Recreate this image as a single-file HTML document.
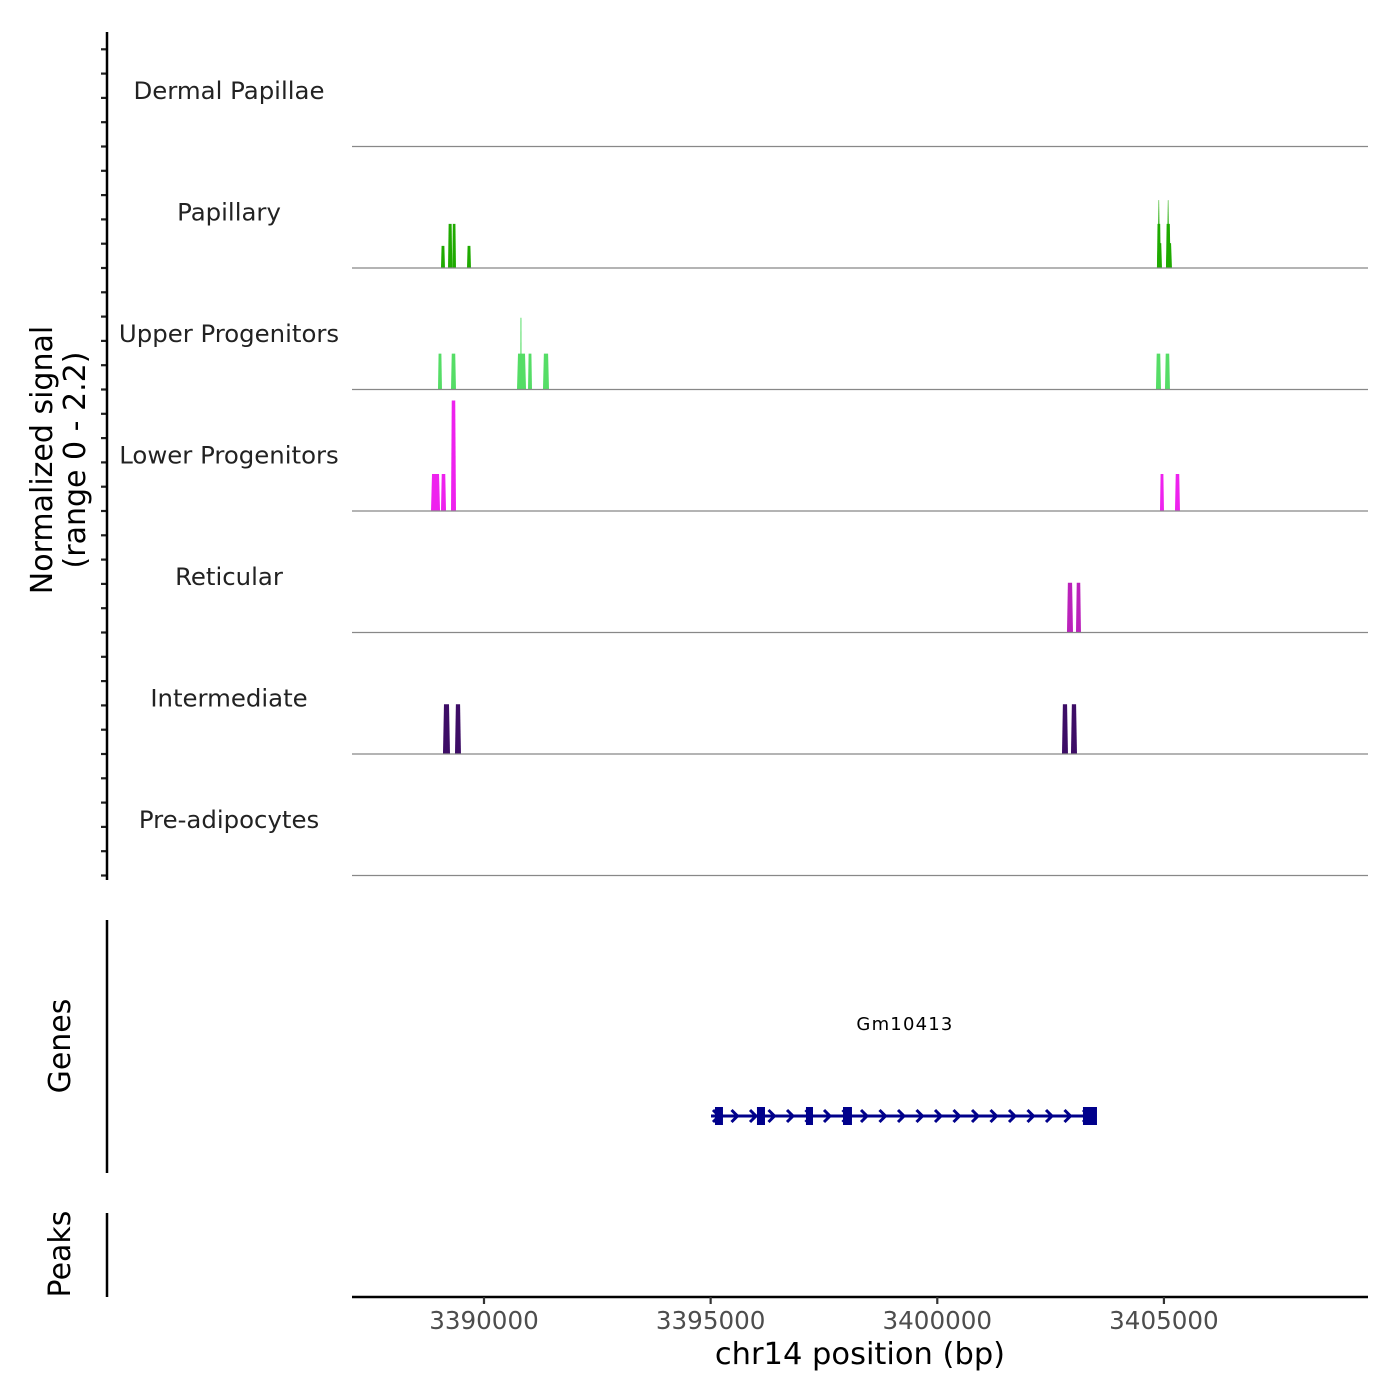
<!DOCTYPE html>
<html><head><meta charset="utf-8"><style>
body{margin:0;background:#fff}
svg{display:block;font-family:"DejaVu Sans","Liberation Sans",sans-serif}
</style></head><body>
<svg id="c" width="1400" height="1400" viewBox="0 0 1400 1400"></svg>
<script>
const tracks=["Dermal Papillae","Papillary","Upper Progenitors","Lower Progenitors","Reticular","Intermediate","Pre-adipocytes"];
const colors=["#7CAE00","#1FAA00","#55DD66","#EE22EE","#BB22BB","#3D0D66","#555"];
// peaks: [start bp, end bp, value] per track
const papillaryPeaks=[[3389051,3389139,0.4],[3389206,3389300,0.8],[3389300,3389382,0.8],[3389625,3389713,0.4],
 [3404846,3404957,0.45],[3404846,3404930,0.8],[3404860,3404915,1.23],
 [3405045,3405177,0.45],[3405045,3405145,0.8],[3405065,3405120,1.23]];
const upperPeaks=[[3388985,3389073,0.65],[3389272,3389382,0.65],[3390728,3390927,0.65],[3390800,3390830,1.3],[3390971,3391059,0.65],[3391301,3391434,0.65],[3404824,3404935,0.65],[3405023,3405133,0.65]];
const lowerPeaks=[[3388831,3389030,0.67],[3389051,3389162,0.67],[3389272,3389382,2.0],[3404913,3405001,0.67],[3405244,3405354,0.67]];
const reticularPeaks=[[3402861,3402994,0.9],[3403060,3403170,0.9]];
const intermediatePeaks=[[3389095,3389250,0.9],[3389360,3389492,0.9],[3402751,3402883,0.9],[3402949,3403082,0.9]];
const peaksByTrack=[[],papillaryPeaks,upperPeaks,lowerPeaks,reticularPeaks,intermediatePeaks,[]];
const xTicks=[3390000,3395000,3400000,3405000];
const geneStart=3395008, geneEnd=3403501;
const exons=[[3395096,3395272],[3396022,3396199],[3397103,3397258],[3397920,3398118],[3403214,3403523]];
const geneName="Gm10413";

const svg=document.getElementById('c');
const NS="http://www.w3.org/2000/svg";
function el(t,a,txt){const e=document.createElementNS(NS,t);for(const k in a)e.setAttribute(k,a[k]);if(txt!=null)e.textContent=txt;svg.appendChild(e);return e;}
const X0=352,X1=1368,D0=3387088,D1=3409502;
const x=v=>X0+(v-D0)/(D1-D0)*(X1-X0);
const trackH=121.5, top0=25, ymax=2.2;
const base=i=>top0+trackH*(i+1);
const y=(i,v)=>base(i)-v/ymax*trackH;

tracks.forEach((name,i)=>{
  const t=el('text',{x:229,y:base(i)-trackH/2+13,'text-anchor':'middle','font-size':24.4,fill:'#222'},name);
  
  
  peaksByTrack[i].forEach(p=>{
    const a=x(p[0]),b=x(p[1]),h=y(i,p[2]),w=b-a,ins=p[2]>1.1&&i==1?w*0.4:Math.min(1,w*0.15);
    const poly=el('polygon',{points:`${a},${base(i)} ${a+ins},${h} ${b-ins},${h} ${b},${base(i)}`,fill:colors[i]});
    
    
  });
  const l=el('line',{x1:X0,x2:X1,y1:base(i),y2:base(i),stroke:'#888','stroke-width':1.2});
  
  
  for(let k=0;k<5;k++){const ty=base(i)-k*24.3;if(ty<32)continue;
    const tk=el('line',{x1:101,x2:107,y1:ty,y2:ty,stroke:'#222','stroke-width':2.2});
    
    }
});
let ya=el('line',{x1:107,x2:107,y1:32,y2:880,stroke:'#000','stroke-width':2.5});

let yt=el('text',{transform:'translate(56,460) rotate(-90)','text-anchor':'middle','font-size':30,fill:'#000'});

yt.innerHTML='<tspan x="0" dy="-4">Normalized signal</tspan><tspan x="0" dy="33">(range 0 - 2.2)</tspan>';

// genes
let ga=el('line',{x1:107,x2:107,y1:920,y2:1173,stroke:'#000','stroke-width':2.5});

let gt=el('text',{transform:'translate(70,1046) rotate(-90)','text-anchor':'middle','font-size':30,fill:'#000'},'Genes');

let gl=el('text',{x:905,y:1030,'text-anchor':'middle','font-size':18,'letter-spacing':1.2,fill:'#000'},geneName);

const gy=1116;
let gline=el('line',{x1:x(geneStart),x2:x(geneEnd),y1:gy,y2:gy,stroke:'#00008B','stroke-width':3});

for(let px=x(geneStart)+2;px<x(geneEnd)-4;px+=18.5){
  const ar=el('polyline',{points:`${px},${gy-6} ${px+6},${gy} ${px},${gy+6}`,fill:'none',stroke:'#00008B','stroke-width':3});
  
}
exons.forEach(e=>{const r=el('rect',{x:x(e[0]),y:gy-9,width:x(e[1])-x(e[0]),height:18,fill:'#00008B'});
  });

// peaks panel
let pa=el('line',{x1:107,x2:107,y1:1213,y2:1297,stroke:'#000','stroke-width':2.5});

let pt=el('text',{transform:'translate(70,1254) rotate(-90)','text-anchor':'middle','font-size':30,fill:'#000'},'Peaks');


// x axis
let xa=el('line',{x1:X0,x2:X1,y1:1297,y2:1297,stroke:'#000','stroke-width':2.5});

xTicks.forEach(v=>{
  const tk=el('line',{x1:x(v),x2:x(v),y1:1297,y2:1304,stroke:'#333','stroke-width':2.2});
  
  const tl=el('text',{x:x(v),y:1329,'text-anchor':'middle','font-size':24.6,fill:'#4d4d4d'},String(v));
  
});
let xt=el('text',{x:860,y:1364,'text-anchor':'middle','font-size':30.5,fill:'#000'},'chr14 position (bp)');

</script>
</body></html>
